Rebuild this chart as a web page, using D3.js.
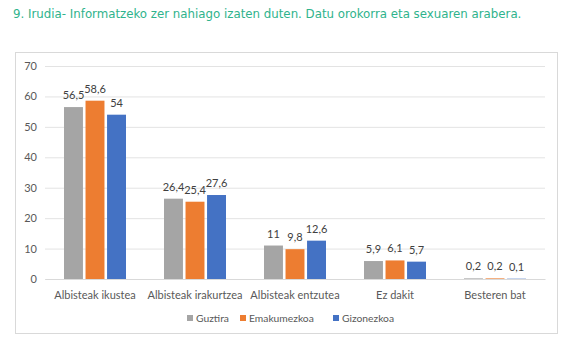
<!DOCTYPE html>
<html><head><meta charset="utf-8">
<script src="https://cdn.jsdelivr.net/npm/d3@7"></script>
<style>body{margin:0;background:#fff}svg{display:block}</style>
</head><body>
<svg id="c" width="570" height="341"></svg>
<script>
const categories = ["Albisteak ikustea","Albisteak irakurtzea","Albisteak entzutea","Ez dakit","Besteren bat"];
const seriesNames = ["Guztira","Emakumezkoa","Gizonezkoa"];
const guztira = [56.5,26.4,11,5.9,0.2];
const emakumezkoa = [58.6,25.4,9.8,6.1,0.2];
const gizonezkoa = [54,27.6,12.6,5.7,0.1];
const yTicks = [0,10,20,30,40,50,60,70];
const colors = ["#a5a5a5","#ed7d31","#4472c4"];
const title = "9. Irudia- Informatzeko zer nahiago izaten duten. Datu orokorra eta sexuaren arabera.";

const series = [guztira, emakumezkoa, gizonezkoa];
const svg = d3.select("#c");
const font = "Lato, 'Open Sans', sans-serif";

const t = svg.append("text").attr("x",13).attr("y",18).attr("fill","#2fb38c")
  .attr("font-family","'DejaVu Sans Condensed','DejaVu Sans', sans-serif").attr("font-size",14).text(title);
const w = t.node().getComputedTextLength();
t.attr("font-size", 14*509/w);

svg.append("rect").attr("x",15.5).attr("y",52.5).attr("width",542).attr("height",281)
  .attr("fill","#fff").attr("stroke","#d9d9d9");

const y = d3.scaleLinear().domain([0,70]).range([279,66]);
const x0 = d3.scaleBand().domain(categories).range([45,545]);
const x1 = d3.scaleBand().domain(seriesNames).range([0,62]).paddingInner(0.12);

const ya = svg.append("g").attr("transform","translate(45,0)")
  .call(d3.axisLeft(y).tickValues(yTicks).tickSize(-500).tickFormat(d3.format("d")));
ya.select(".domain").remove();
ya.selectAll(".tick line").attr("stroke","#e3e3e3");
ya.selectAll(".tick text").attr("fill","#595959").attr("font-family",font).attr("font-size",11).attr("x",-8);

const xa = svg.append("g").attr("transform","translate(0,279)").call(d3.axisBottom(x0).tickSize(0));
xa.select(".domain").attr("stroke","#d9d9d9");
xa.selectAll(".tick text").attr("fill","#595959").attr("font-family",font).attr("font-size",11).attr("dy","1.5em");

const g = svg.append("g");
categories.forEach((c,i)=>{
  const gx = x0(c) + x0.bandwidth()/2 - 31;
  series.forEach((s,j)=>{
    const v = s[i];
    g.append("rect").attr("x",gx+x1(seriesNames[j])).attr("y",y(v))
      .attr("width",x1.bandwidth()).attr("height",y(0)-y(v)).attr("fill",colors[j]);
    g.append("text").attr("x",gx+x1(seriesNames[j])+x1.bandwidth()/2).attr("y",y(v)-8)
      .attr("text-anchor","middle").attr("fill","#404040").attr("font-family",font).attr("font-size",11)
      .text(String(v).replace(".",","));
  });
});

const leg = svg.append("g");
const legX = [187,240,333];
seriesNames.forEach((n,j)=>{
  leg.append("rect").attr("x",legX[j]).attr("y",315).attr("width",6).attr("height",6).attr("fill",colors[j]);
  leg.append("text").attr("x",legX[j]+9).attr("y",321.5).attr("fill","#595959")
    .attr("font-family",font).attr("font-size",10.3).text(n);
});
</script>
</body></html>
